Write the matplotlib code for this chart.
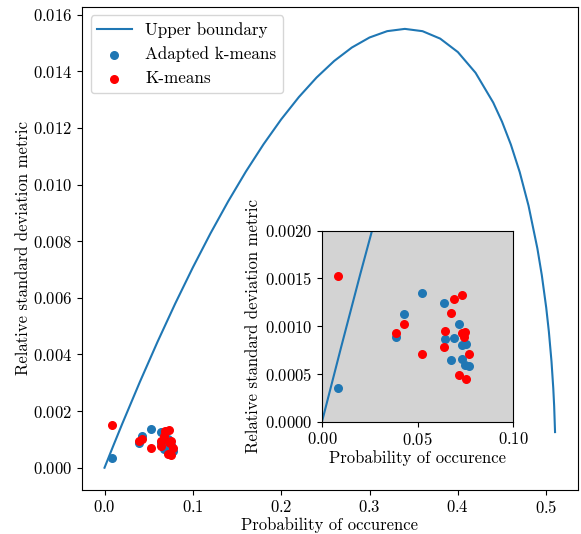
import matplotlib
matplotlib.use("Agg")
import matplotlib.pyplot as plt

plt.rcParams['font.family'] = 'serif'
plt.rcParams['font.serif'] = ['cmr10']
plt.rcParams['mathtext.fontset'] = 'cm'
plt.rcParams['axes.formatter.use_mathtext'] = True
plt.rcParams['font.size'] = 12

# Upper boundary curve
bound_x = [0.0, 0.01, 0.02, 0.04, 0.06, 0.08, 0.10, 0.12, 0.14, 0.16, 0.18, 0.20,
           0.22, 0.24, 0.26, 0.28, 0.30, 0.32, 0.34, 0.36, 0.38, 0.40, 0.42, 0.44,
           0.45, 0.46, 0.47, 0.48, 0.49, 0.495, 0.50, 0.503, 0.506, 0.508, 0.509, 0.510]
bound_y = [0.0, 0.000781, 0.001546, 0.003029, 0.004446, 0.005795, 0.007073, 0.008279,
           0.009408, 0.010458, 0.011424, 0.012304, 0.013091, 0.013780, 0.014366,
           0.014841, 0.015195, 0.015419, 0.015499, 0.015418, 0.015155, 0.014680,
           0.013949, 0.012898, 0.012220, 0.011412, 0.010442, 0.009254, 0.007745,
           0.006804, 0.005656, 0.004809, 0.003747, 0.002804, 0.002176, 0.001259]

# Adapted k-means
adapt_x = [0.0084, 0.0389, 0.0428, 0.0524, 0.0637, 0.0644, 0.0691, 0.0714,
           0.0672, 0.0731, 0.0754, 0.0733, 0.0745, 0.0770]
adapt_y = [0.000356, 0.000890, 0.001131, 0.001351, 0.001246, 0.000869, 0.000876,
           0.001026, 0.000646, 0.000799, 0.000810, 0.000653, 0.000590, 0.000579]

# K-means
km_x = [0.0082, 0.0389, 0.0428, 0.0524, 0.0637, 0.0644, 0.0689, 0.0733, 0.0672,
        0.0733, 0.0749, 0.0742, 0.0770, 0.0714, 0.0754]
km_y = [0.001522, 0.000932, 0.001019, 0.000705, 0.000782, 0.000946, 0.001288,
        0.001323, 0.001138, 0.000925, 0.000942, 0.000883, 0.000705, 0.000489, 0.000450]

xlabel = "Probability of occurence"
ylabel = "Relative standard deviation metric"

fig = plt.figure(figsize=(5.81, 5.34), dpi=100)
ax = fig.add_axes([0.1411, 0.0830, 0.853, 0.9040])
ax.plot(bound_x, bound_y, color='C0', lw=1.5, label='Upper boundary')
ax.scatter(adapt_x, adapt_y, color='C0', s=30, label='Adapted k-means', zorder=3)
ax.scatter(km_x, km_y, color='red', s=30, label='K-means', zorder=3)
ax.set_xlabel(xlabel, labelpad=0.5)
ax.set_ylabel(ylabel, labelpad=1.5)
ax.legend(loc='upper left', fontsize=12.3)

ins = fig.add_axes([0.5542, 0.2103, 0.3296, 0.3577])
ins.set_facecolor('lightgray')
ins.plot(bound_x, bound_y, color='C0', lw=1.5)
ins.scatter(adapt_x, adapt_y, color='C0', s=30, zorder=3)
ins.scatter(km_x, km_y, color='red', s=30, zorder=3)
ins.set_xlim(0, 0.1)
ins.set_ylim(0, 0.002)
ins.set_xticks([0.0, 0.05, 0.10])
ins.set_yticks([0.0, 0.0005, 0.0010, 0.0015, 0.0020])
ins.set_xlabel(xlabel, labelpad=1.5)
ins.set_ylabel(ylabel, labelpad=2.5)

fig.savefig("out.png", dpi=100)
